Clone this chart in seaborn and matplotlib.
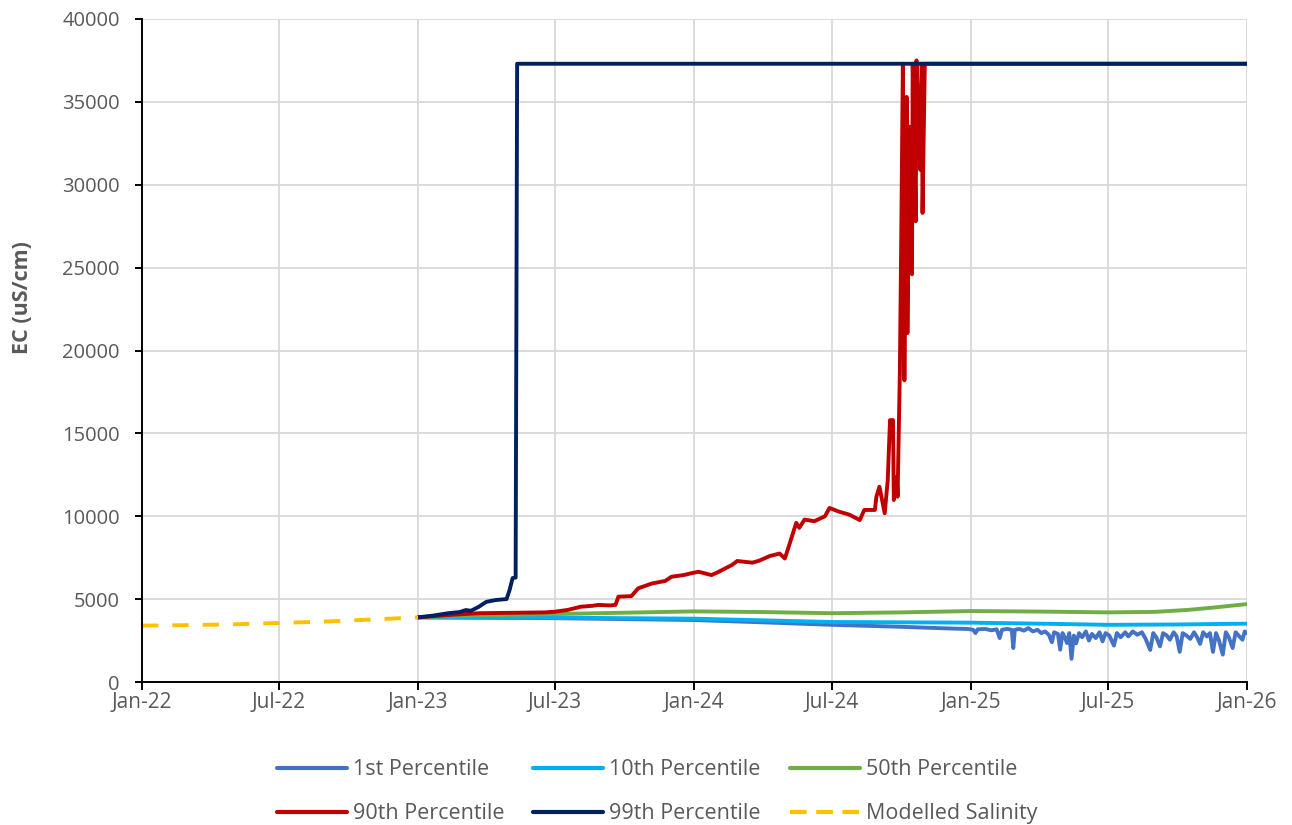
import matplotlib
matplotlib.use("Agg")
import matplotlib.pyplot as plt
import matplotlib.dates as mdates
import numpy as np
import pandas as pd
import seaborn as sns

# ---------------------------------------------------------------- data
series_names = ["1st Percentile", "10th Percentile", "50th Percentile",
                "90th Percentile", "99th Percentile", "Modelled Salinity"]

modelled_dates = ["2022-01-01", "2022-03-01", "2022-05-01", "2022-07-01",
                  "2022-09-01", "2022-11-01", "2023-01-01"]
modelled_values = [3400, 3430, 3480, 3560, 3650, 3770, 3900]

p01_dates = ["2023-01-01", "2023-07-01", "2024-01-01", "2024-04-01", "2024-07-01",
             "2024-10-01", "2024-11-01", "2024-11-20", "2024-12-10", "2024-12-28",
             "2025-01-04", "2025-01-07", "2025-01-10", "2025-01-20", "2025-01-28",
             "2025-02-04", "2025-02-08", "2025-02-11", "2025-02-18", "2025-02-24",
             "2025-02-26", "2025-02-28", "2025-03-06", "2025-03-12", "2025-03-18",
             "2025-03-24", "2025-03-30", "2025-04-04", "2025-04-09", "2025-04-14",
             "2025-04-18", "2025-04-21", "2025-04-26", "2025-04-29", "2025-05-02",
             "2025-05-05", "2025-05-08", "2025-05-11", "2025-05-14", "2025-05-17",
             "2025-05-20", "2025-05-24", "2025-05-28", "2025-06-02", "2025-06-06",
             "2025-06-10", "2025-06-15", "2025-06-20", "2025-06-24", "2025-06-28",
             "2025-07-03", "2025-07-09", "2025-07-13", "2025-07-18", "2025-07-24",
             "2025-07-28", "2025-08-03", "2025-08-09", "2025-08-15", "2025-08-20",
             "2025-08-26", "2025-08-30", "2025-09-03", "2025-09-08", "2025-09-12",
             "2025-09-17", "2025-09-21", "2025-09-26", "2025-09-30", "2025-10-04",
             "2025-10-08", "2025-10-13", "2025-10-18", "2025-10-23", "2025-10-27",
             "2025-10-31", "2025-11-04", "2025-11-09", "2025-11-13", "2025-11-17",
             "2025-11-21", "2025-11-25", "2025-11-30", "2025-12-04", "2025-12-08",
             "2025-12-13", "2025-12-17", "2025-12-21", "2025-12-26", "2025-12-29",
             "2026-01-01"]
p01_values = [3900, 3850, 3740, 3600, 3450,
              3330, 3280, 3250, 3220, 3200,
              3150, 2950, 3180, 3200, 3120,
              3180, 2650, 3150, 3200, 3150,
              2050, 3150, 3200, 3100, 3250,
              3050, 3150, 2950, 3050, 2850,
              2400, 3000, 2900, 1950, 2950,
              2700, 2350, 2950, 1400, 2800,
              2330, 2950, 2700, 3050, 2500,
              2900, 2650, 3000, 2450, 2950,
              2800, 2200, 2950, 2700, 3000,
              2750, 3050, 2850, 3000, 2600,
              1930, 2950, 2700, 2150, 2950,
              2800, 2550, 3000, 2750, 1820,
              2950, 2800, 2600, 3000, 2700,
              2300, 3000, 2750, 2950, 1820,
              2950, 2500, 1650, 3000, 2700,
              2050, 3000, 2800, 2550, 3050,
              2950]

p10_dates = ["2023-01-01", "2023-07-01", "2024-01-01", "2024-07-01", "2024-10-01",
             "2025-01-01", "2025-04-01", "2025-07-01", "2025-10-01", "2026-01-01"]
p10_values = [3900, 3880, 3820, 3620, 3600, 3580, 3520, 3450, 3470, 3520]

p50_dates = ["2023-01-01", "2023-03-01", "2023-07-01", "2023-10-01", "2024-01-01",
             "2024-04-01", "2024-07-01", "2024-10-01", "2025-01-01", "2025-04-01",
             "2025-07-01", "2025-09-01", "2025-10-15", "2025-11-15", "2026-01-01"]
p50_values = [3900, 4000, 4100, 4180, 4260, 4220, 4150, 4200, 4280, 4250,
              4200, 4230, 4350, 4480, 4700]

p90_dates = ["2023-01-01", "2023-02-12", "2023-03-23", "2023-05-15", "2023-06-17",
             "2023-07-01", "2023-07-18", "2023-08-04", "2023-08-20", "2023-08-27",
             "2023-09-12", "2023-09-19", "2023-09-23", "2023-10-10", "2023-10-19",
             "2023-11-06", "2023-11-24", "2023-12-02", "2023-12-18", "2023-12-29",
             "2024-01-07", "2024-01-24", "2024-02-03", "2024-02-20", "2024-02-27",
             "2024-03-18", "2024-03-27", "2024-04-10", "2024-04-23", "2024-04-30",
             "2024-05-06", "2024-05-15", "2024-05-19", "2024-05-26", "2024-06-08",
             "2024-06-22", "2024-06-28", "2024-07-11", "2024-07-24", "2024-08-07",
             "2024-08-13", "2024-08-27", "2024-08-29", "2024-09-02", "2024-09-09",
             "2024-09-13", "2024-09-16", "2024-09-20", "2024-09-21", "2024-09-25",
             "2024-09-26", "2024-09-29", "2024-10-01", "2024-10-03", "2024-10-05",
             "2024-10-08", "2024-10-09", "2024-10-12", "2024-10-15", "2024-10-16",
             "2024-10-18", "2024-10-20", "2024-10-21", "2024-10-24", "2024-10-26",
             "2024-10-28", "2024-10-29", "2024-11-01", "2026-01-01"]
p90_values = [3900, 4050, 4150, 4180, 4200,
              4240, 4350, 4540, 4600, 4650,
              4620, 4650, 5150, 5180, 5650,
              5940, 6100, 6350, 6450, 6570,
              6650, 6450, 6660, 7060, 7300,
              7200, 7320, 7600, 7750, 7450,
              8300, 9600, 9300, 9800, 9700,
              10000, 10500, 10270, 10100, 9770,
              10380, 10380, 11180, 11780, 10180,
              12180, 15800, 15800, 10980, 12380,
              11180, 18640, 27500, 37300, 18200,
              35300, 21050, 33500, 24600, 37300,
              32900, 27800, 37500, 34200, 30900,
              37300, 28300, 37300, 37300]

p99_dates = ["2023-01-01", "2023-01-20", "2023-02-10", "2023-02-25", "2023-03-05",
             "2023-03-12", "2023-03-22", "2023-04-01", "2023-04-08", "2023-04-15",
             "2023-04-22", "2023-04-28", "2023-05-02", "2023-05-06", "2023-05-10",
             "2023-05-12", "2026-01-01"]
p99_values = [3900, 4000, 4150, 4220, 4340,
              4300, 4530, 4830, 4900, 4950,
              4980, 5000, 5550, 6270, 6300,
              37300, 37300]

colors = ["#4472C4", "#00B0F0", "#70AD47", "#C00000", "#002060", "#FFC000"]

# ------------------------------------------------------------ table
frames = []
for name, d, v in [("1st Percentile", p01_dates, p01_values),
                   ("10th Percentile", p10_dates, p10_values),
                   ("50th Percentile", p50_dates, p50_values),
                   ("90th Percentile", p90_dates, p90_values),
                   ("99th Percentile", p99_dates, p99_values),
                   ("Modelled Salinity", modelled_dates, modelled_values)]:
    frames.append(pd.DataFrame({"date": pd.to_datetime(d), "EC": v, "series": name}))
df = pd.concat(frames, ignore_index=True)

# ------------------------------------------------------------ figure
sns.set_style("white")
plt.rcParams["font.family"] = ["Open Sans", "DejaVu Sans"]

fig = plt.figure(figsize=(12.92, 8.25), dpi=100)
ax = fig.add_axes([142 / 1292, 1 - 682 / 825, (1247 - 142) / 1292, (682 - 19) / 825])

palette = dict(zip(series_names, colors))
dashes = {n: "" for n in series_names}
dashes["Modelled Salinity"] = (4.2, 3.6)

sns.lineplot(data=df, x="date", y="EC", hue="series", style="series",
             hue_order=series_names, style_order=series_names,
             palette=palette, dashes=dashes, linewidth=2.8,
             estimator=None, sort=True, ax=ax, legend=True)

handles, labels = ax.get_legend_handles_labels()
ax.get_legend().remove()
lookup = dict(zip(labels, handles))
for h in handles:
    h.set_linewidth(3.0)
lookup["Modelled Salinity"].set_dashes((4.0, 2.3))

# axes styling
ax.set_xlim(pd.Timestamp("2022-01-01"), pd.Timestamp("2026-01-01"))
ax.set_ylim(0, 40000)
ax.set_yticks(np.arange(0, 40001, 5000))
ax.set_xticks(pd.date_range("2022-01-01", "2026-01-01", freq="6MS"))
ax.xaxis.set_major_formatter(mdates.DateFormatter("%b-%y"))

ax.grid(True, color="#D9D9D9", linewidth=1.3)
ax.set_axisbelow(True)
for side in ["top", "right"]:
    ax.spines[side].set_visible(False)
for side in ["left", "bottom"]:
    ax.spines[side].set_color("black")
    ax.spines[side].set_linewidth(1.4)
ax.tick_params(axis="y", which="major", direction="out", length=5, width=1.4,
               color="black", labelsize=14.5, labelcolor="#595959", pad=11,
               left=True)
ax.tick_params(axis="x", which="major", direction="out", length=5.5, width=1.4,
               color="black", labelsize=15, labelcolor="#595959", pad=1.5,
               bottom=True)

ax.set_xlabel("")
ax.set_ylabel("EC (uS/cm)", fontsize=15.5, fontweight="bold", color="#595959")
ax.yaxis.set_label_coords(-0.0986, 0.58)

# legend below the plot, filled row by row
order = ["1st Percentile", "90th Percentile", "10th Percentile",
         "99th Percentile", "50th Percentile", "Modelled Salinity"]
fig.legend([lookup[n] for n in order], order, loc="upper left",
           bbox_to_anchor=((266 - 8.6) / 1292, 1 - 740 / 825), ncol=3, frameon=False,
           fontsize=15.5, labelcolor="#595959", handlelength=3.25, borderpad=0.4,
           handletextpad=0.28, columnspacing=1.35, labelspacing=1.07)

fig.savefig("out.png", dpi=100, facecolor="white")
